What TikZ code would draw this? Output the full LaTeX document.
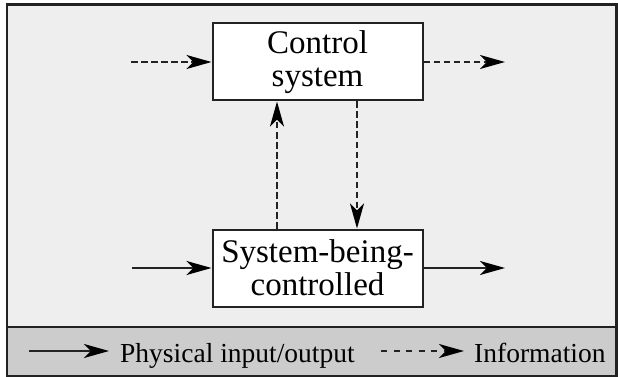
\documentclass[tikz,border=0pt]{standalone}
\usepackage{fontspec}
\setmainfont{Liberation Serif}
\newfontfamily\timesfont{Liberation Serif}
\usetikzlibrary{arrows.meta}
\definecolor{panelgray}{HTML}{EEEEEE}
\definecolor{keygray}{HTML}{CCCCCC}
\definecolor{inkgray}{HTML}{222222}
\tikzset{
  blockbox/.style={draw=inkgray, line width=2pt, fill=white, inner sep=0pt,
    minimum width=210pt, minimum height=77pt, align=center,
    font=\timesfont\fontsize{33}{33}\selectfont},
  keytext/.style={anchor=base west, inner sep=0pt,
    font=\timesfont\fontsize{27.5}{30}\selectfont},
  flow/.style={line width=1.8pt, draw=inkgray,
    -{Stealth[length=25pt, width=14pt, inset=7pt, black]}},
  physical/.style={flow},
  info/.style={flow, dash pattern=on 6.5pt off 3.5pt},
  keyinfo/.style={flow, dash pattern=on 6pt off 6.5pt},
}
\begin{document}
\begin{tikzpicture}[x=1pt, y=-1pt]
  \useasboundingbox (0,0) rectangle (618,377);
  % background panels
  \fill[panelgray] (7,4.5) rectangle (616.5,327);
  \fill[keygray] (7,327) rectangle (616.5,376);
  \draw[line width=2.4pt, draw=inkgray] (7,327) -- (616.5,327);
  \draw[line width=2.4pt, draw=inkgray] (7,4.5) rectangle (616.5,376);

  % blocks
  \node[blockbox] (ctrl) at (317.5,62) {Control\\system};
  \node[blockbox] (sys) at (317.5,268) {System-being-\\controlled};

  % free ends of the connectors
  \coordinate (infoin) at (131,62);
  \coordinate (infoout) at (505,62);
  \coordinate (physin) at (132,268);
  \coordinate (physout) at (505,268);
  \coordinate (upx) at (277,0);
  \coordinate (downx) at (357,0);

  % information flows
  \draw[info] (infoin) -- (ctrl.west);
  \draw[info] (ctrl.east) -- (infoout);
  \draw[info] (sys.north -| upx) -- (ctrl.south -| upx);
  \draw[info] (ctrl.south -| downx) -- (sys.north -| downx);

  % physical flows
  \draw[physical] (physin) -- (sys.west);
  \draw[physical] (sys.east) -- (physout);

  % key
  \coordinate (k1a) at (29,351);
  \coordinate (k1b) at (109,351);
  \coordinate (k2a) at (381,351);
  \coordinate (k2b) at (464,351);
  \draw[physical] (k1a) -- (k1b);
  \node[keytext] (kphys) at (120,362) {Physical input/output};
  \draw[keyinfo] (k2a) -- (k2b);
  \node[keytext] (kinfo) at (474,362) {Information};
\end{tikzpicture}
\end{document}
